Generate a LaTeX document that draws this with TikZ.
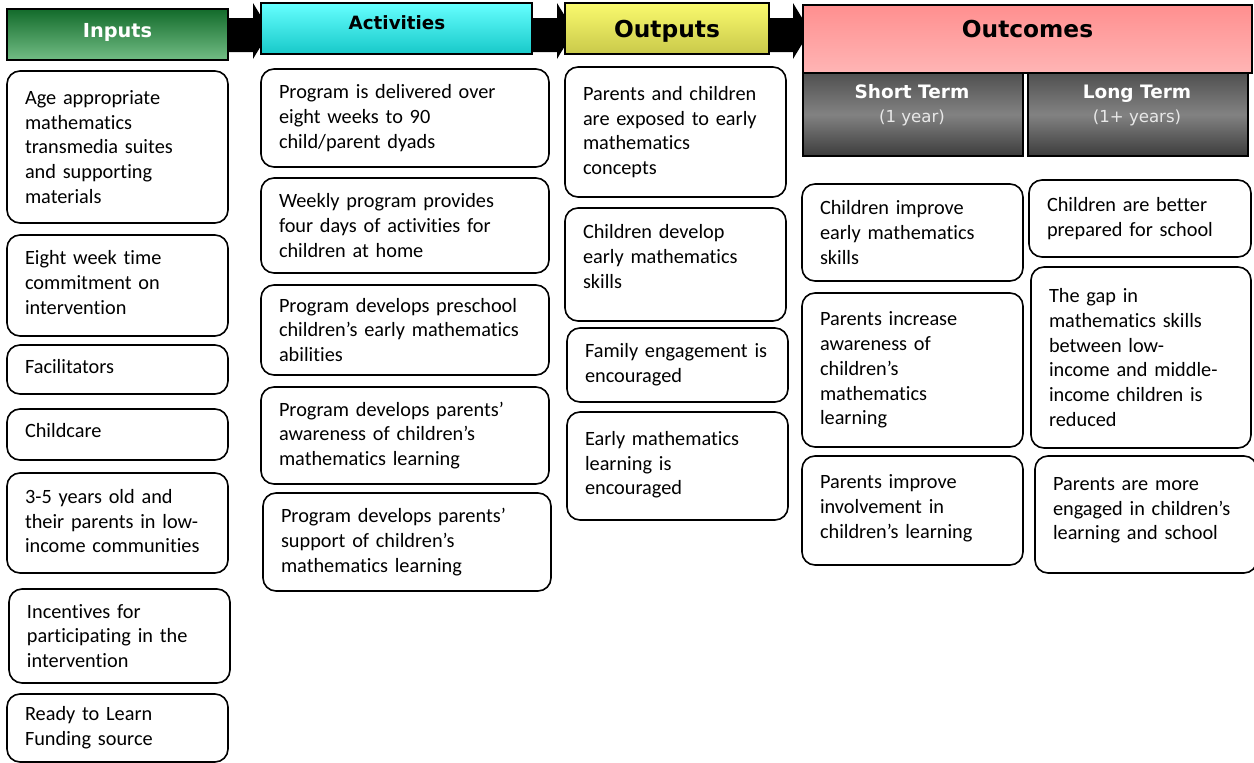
\documentclass[tikz,border=0pt]{standalone}
\usepackage{fontspec}
\setmainfont{Carlito}[Ligatures=NoCommon]
\newfontfamily\hdrfont{DejaVu Sans}
\usetikzlibrary{calc}
\definecolor{gTop}{HTML}{136B2B}
\definecolor{gBot}{HTML}{72BD85}
\definecolor{cTop}{HTML}{66FFFF}
\definecolor{cBot}{HTML}{17C9C9}
\definecolor{yTop}{HTML}{FAFA6E}
\definecolor{yBot}{HTML}{C9C94A}
\definecolor{pTop}{HTML}{FF8F8F}
\definecolor{pBot}{HTML}{FFB5B5}
\definecolor{kTop}{HTML}{505050}
\definecolor{kMid}{HTML}{828282}
\definecolor{kBot}{HTML}{3C3C3C}
\definecolor{subtxt}{HTML}{E8E8E8}
\tikzset{
  tb/.style={draw=black, line width=1.6pt, rounded corners=13pt, fill=white,
    align=left, inner xsep=18pt, inner ysep=3pt, outer sep=0pt,
    font=\fontsize{20.3}{24.8}\selectfont},
  hdr/.style={draw=black, line width=1.6pt, inner sep=0pt, outer sep=0pt, anchor=north west},
  grayhdr/.style={hdr, top color=kTop, bottom color=kBot, middle color=kMid},
  htxt/.style={anchor=base, inner sep=0pt, font=\hdrfont\bfseries\fontsize{#1}{#1}\selectfont},
  stxt/.style={anchor=base, inner sep=0pt, text=subtxt, font=\hdrfont\fontsize{16.6}{16.6}\selectfont},
  blockarrow/.style={fill=black}
}
\newcommand\tbox[7][0]{%
  \pgfmathsetmacro\tbw{#5-36}%
  \node[tb, text width=\tbw pt, minimum height=#6pt, anchor=north west] (#2) at (#3,#4) {#7\rule[-#1pt]{0pt}{0pt}};}
\begin{document}
\begin{tikzpicture}[x=1pt,y=-1pt]
\useasboundingbox (0,0) rectangle (1254,763);
\fill[white] (0,0) rectangle (1254,763);

% block arrows (drawn first, tips hidden by headers)
\fill[blockarrow] (228,18) -- (253,18) -- (253,3) -- (270,31) -- (253,59) -- (253,52) -- (228,52) -- cycle;
\fill[blockarrow] (532,18) -- (557,18) -- (557,3) -- (574,31) -- (557,59) -- (557,52) -- (532,52) -- cycle;
\fill[blockarrow] (769,18) -- (793,18) -- (793,3) -- (810,31) -- (793,59) -- (793,52) -- (769,52) -- cycle;

% headers
\node[hdr, top color=gTop, bottom color=gBot, minimum width=221pt, minimum height=51pt] (inH) at (7,9) {};
\node[htxt=19.3, text=white] (inT) at (117.5,37) {Inputs};
\node[hdr, top color=cTop, bottom color=cBot, minimum width=271pt, minimum height=51pt] (acH) at (261,3) {};
\node[htxt=18.3, text=black] (acT) at (397,29) {Activities};
\node[hdr, top color=yTop, bottom color=yBot, minimum width=204pt, minimum height=51pt] (ouH) at (565,3) {};
\node[htxt=23.3, text=black] (ouT) at (667,37) {Outputs};
\node[hdr, top color=pTop, bottom color=pBot, minimum width=449pt, minimum height=68pt] (ocH) at (803,5) {};
\node[htxt=23.3, text=black] (ocT) at (1027.5,37) {Outcomes};
\node[grayhdr, minimum width=220pt, minimum height=83pt] (stH) at (803,73) {};
\node[htxt=18.5, text=white] (stT) at (912,98) {Short Term};
\node[stxt] (stS) at (912,122) {(1 year)};
\node[grayhdr, minimum width=220pt, minimum height=83pt] (ltH) at (1028,73) {};
\node[htxt=18.5, text=white] (ltT) at (1137,98) {Long Term};
\node[stxt] (ltS) at (1137,122) {(1+ years)};

% Inputs
\tbox{in1}{7}{71}{221}{152}{Age appropriate\\mathematics\\transmedia suites\\and supporting\\materials}
\tbox[6]{in2}{7}{235}{221}{101}{Eight week time\\commitment on\\intervention}
\tbox[6]{in3}{7}{345}{221}{49}{Facilitators}
\tbox[8]{in4}{7}{409}{221}{51}{Childcare}
\tbox[4]{in5}{7}{473}{221}{100}{3-5 years old and\\their parents in low-\\income communities}
\tbox{in6}{9}{589}{221}{94}{Incentives for\\participating in the\\intervention}
\tbox{in7}{7}{694}{221}{68}{Ready to Learn\\Funding source}

% Activities
\tbox{ac1}{261}{69}{288}{98}{Program is delivered over\\eight weeks to 90\\child/parent dyads}
\tbox{ac2}{261}{178}{288}{95}{Weekly program provides\\four days of activities for\\children at home}
\tbox{ac3}{261}{285}{288}{90}{Program develops preschool\\children’s early mathematics\\abilities}
\tbox{ac4}{261}{387}{288}{97}{Program develops parents’\\awareness of children’s\\mathematics learning}
\tbox{ac5}{263}{493}{288}{98}{Program develops parents’\\support of children’s\\mathematics learning}

% Outputs
\tbox{ou1}{565}{67}{221}{130}{Parents and children\\are exposed to early\\mathematics\\concepts}
\tbox[16]{ou2}{565}{208}{221}{113}{Children develop\\early mathematics\\skills}
\tbox{ou3}{567}{328}{221}{74}{Family engagement is\\encouraged}
\tbox[6]{ou4}{567}{412}{221}{108}{Early mathematics\\learning is\\encouraged}

% Short term outcomes
\tbox{st1}{802}{184}{221}{97}{Children improve\\early mathematics\\skills}
\tbox{st2}{802}{293}{221}{154}{Parents increase\\awareness of\\children’s\\mathematics\\learning}
\tbox[8]{st3}{802}{456}{221}{109}{Parents improve\\involvement in\\children’s learning}

% Long term outcomes
\tbox{lt1}{1029}{180}{222}{77}{Children are better\\prepared for school}
\tbox{lt2}{1031}{267}{220}{181}{The gap in\\mathematics skills\\between low-\\income and middle-\\income children is\\reduced}
\tbox[12]{lt3}{1035}{456}{222}{117}{Parents are more\\engaged in children’s\\learning and school}
\end{tikzpicture}
\end{document}
